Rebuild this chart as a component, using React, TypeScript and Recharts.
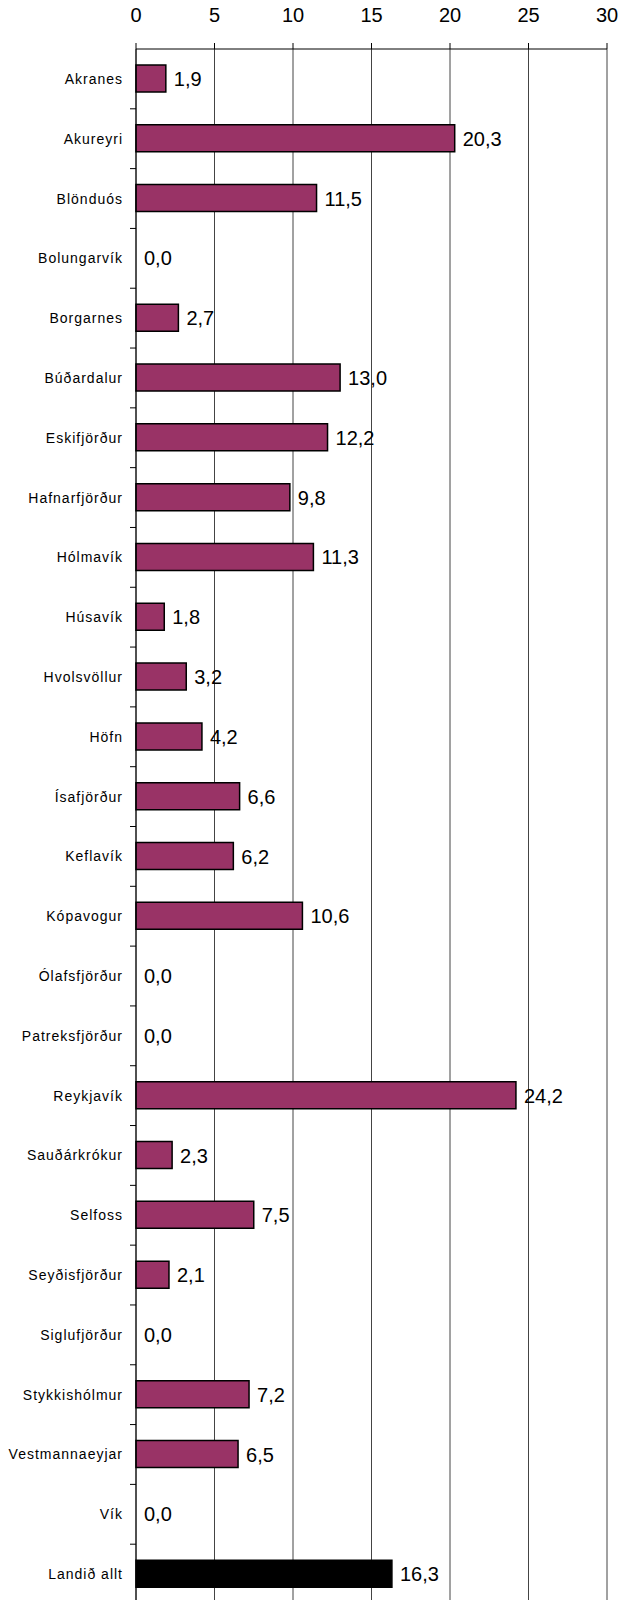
import React from 'react'
import { ComposedChart, Bar, Line, XAxis, YAxis, CartesianGrid, Cell, LabelList } from 'recharts'

const towns = [
  'Akranes', 'Akureyri', 'Blönduós', 'Bolungarvík', 'Borgarnes', 'Búðardalur',
  'Eskifjörður', 'Hafnarfjörður', 'Hólmavík', 'Húsavík', 'Hvolsvöllur', 'Höfn',
  'Ísafjörður', 'Keflavík', 'Kópavogur', 'Ólafsfjörður', 'Patreksfjörður', 'Reykjavík',
  'Sauðárkrókur', 'Selfoss', 'Seyðisfjörður', 'Siglufjörður', 'Stykkishólmur',
  'Vestmannaeyjar', 'Vík', 'Landið allt',
]
const values = [
  1.9, 20.3, 11.5, 0.0, 2.7, 13.0, 12.2, 9.8, 11.3, 1.8, 3.2, 4.2, 6.6, 6.2, 10.6,
  0.0, 0.0, 24.2, 2.3, 7.5, 2.1, 0.0, 7.2, 6.5, 0.0, 16.3,
]
const xTicks = [0, 5, 10, 15, 20, 25, 30]

const data = towns.map((name, i) => ({ name, value: values[i] }))

// plot runs past the bottom of the picture, so the chart is taller than the page and clipped
const W = 630
const H = 1605
const TOP = 49
const BOTTOM = 1
const YW = 136
const band = (H - TOP - BOTTOM) / towns.length
const font = '"Liberation Sans", Arial, sans-serif'

const fmt = (v: any) => Number(v).toFixed(1).replace('.', ',')

function TownTick(props: any) {
  const { x, y, payload } = props
  return (
    <g>
      <text
        x={x}
        y={y}
        dy={5}
        textAnchor="end"
        fontSize={14}
        letterSpacing={1}
        fontFamily={font}
        fill="#000"
      >
        {payload.value}
      </text>
      <line x1={YW - 6} x2={YW} y1={y + band / 2} y2={y + band / 2} stroke="#000" />
    </g>
  )
}

export default function App() {
  return (
    <div
      style={{
        position: 'absolute',
        left: 0,
        top: 0,
        width: W,
        height: 1600,
        overflow: 'hidden',
        background: '#fff',
      }}
    >
      <ComposedChart
        width={W}
        height={H}
        data={data}
        layout="vertical"
        margin={{ top: 0, right: 23, left: 0, bottom: BOTTOM }}
      >
        <CartesianGrid horizontal={false} stroke="#444" />
        <XAxis
          type="number"
          orientation="top"
          domain={[0, 30]}
          ticks={xTicks}
          height={TOP}
          tickSize={6}
          tickMargin={21}
          axisLine={{ stroke: '#000' }}
          tickLine={{ stroke: '#000' }}
          tick={{ fontSize: 20, fill: '#000', fontFamily: font }}
          interval={0}
        />
        <YAxis
          type="category"
          dataKey="name"
          width={YW}
          interval={0}
          tickLine={false}
          tickMargin={7}
          axisLine={{ stroke: '#000' }}
          tick={<TownTick />}
        />
        <Bar dataKey="value" barSize={27} stroke="#000" strokeWidth={1.5} isAnimationActive={false}>
          {data.map((d, i) => (
            <Cell key={d.name} fill={i === data.length - 1 ? '#000' : '#993366'} />
          ))}
        </Bar>
        {/* invisible line only carries the value labels, so 0,0 gets one too */}
        <Line
          dataKey="value"
          stroke="none"
          dot={false}
          activeDot={false}
          isAnimationActive={false}
        >
          <LabelList
            dataKey="value"
            position="right"
            offset={8}
            fontSize={20}
            fill="#000"
            fontFamily={font}
            formatter={fmt}
          />
        </Line>
      </ComposedChart>
    </div>
  )
}
